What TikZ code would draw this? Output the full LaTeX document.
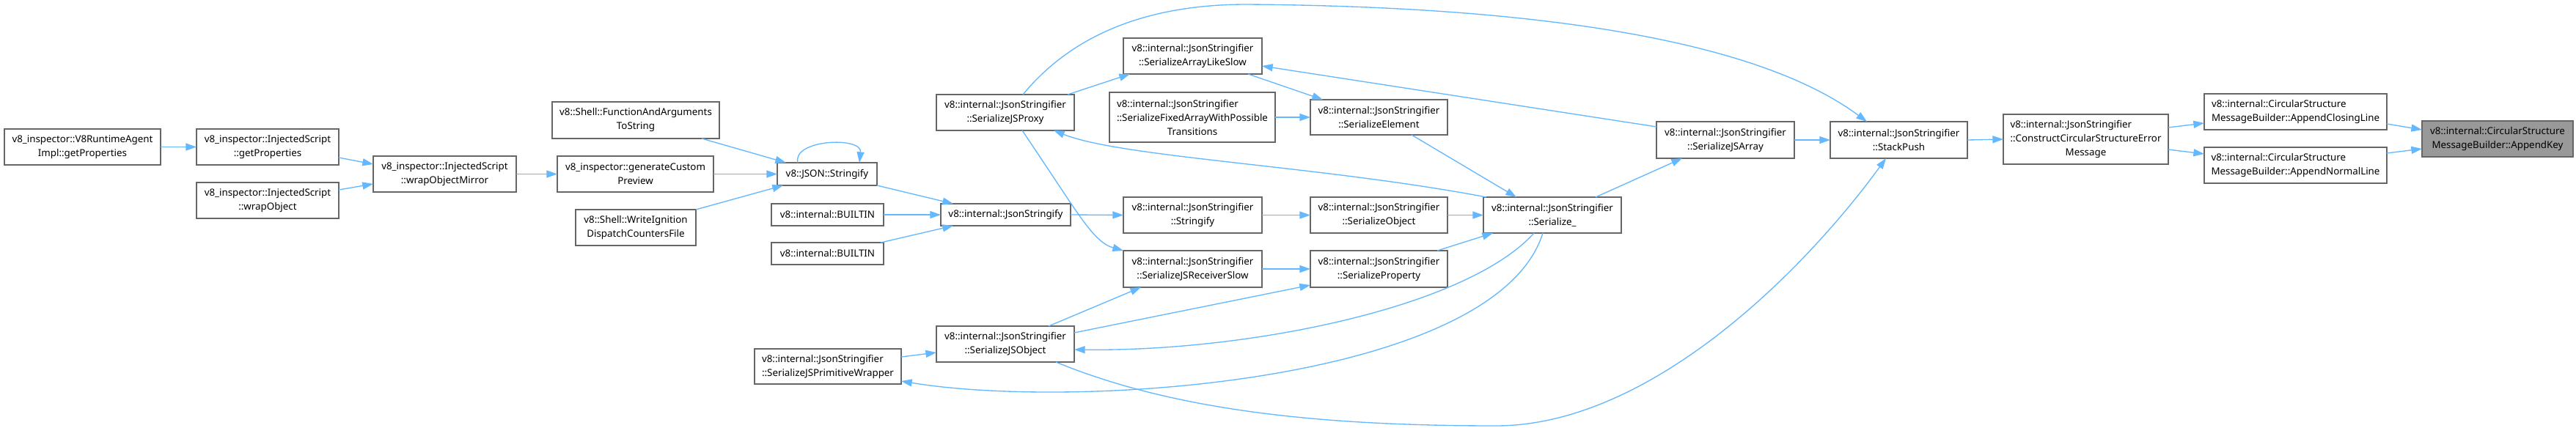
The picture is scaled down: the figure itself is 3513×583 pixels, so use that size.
\documentclass[tikz,border=0pt]{standalone}
\usepackage{fontspec}
\setmainfont{Noto Sans}
\usetikzlibrary{arrows.meta,calc}
\definecolor{edgec}{HTML}{63B8FF}
\definecolor{bordc}{HTML}{666666}
\definecolor{selc}{HTML}{999999}
\newlength\twlA \newlength\twlB
\newcommand{\twol}[2]{\settowidth\twlA{#1}\settowidth\twlB{#2}\ifdim\twlA<\twlB\makebox[\twlB][l]{#1}\else#1\fi\\#2}
\newcommand{\gnode}[7][]{\node[gbox,#1,minimum width={(#5-#3)*0.75pt},minimum height={(#6-#4)*0.75pt}] (#2) at ({(#3+#5)/2},{(#4+#6)/2}) {#7};}
\tikzset{
  gbox/.style={draw=bordc, fill=white, line width=0.9pt, inner sep=0pt, outer sep=0pt, align=center, font=\fontsize{10}{14.25}\selectfont},
  sel/.style={fill=selc},
  conn/.style={draw=edgec, line width=1pt, -{Triangle[length=11pt,width=7.5pt]}}
}
\begin{document}
\begin{tikzpicture}[x=0.75pt,y=-0.75pt]
\fill[white] (0,0) rectangle (3513,583);
\useasboundingbox (0,0) rectangle (3513,583);
\def\JS{v8::internal::JsonStringifier}
\gnode{nA}{6}{176}{219}{225}{\twol{v8\_inspector::V8RuntimeAgent}{Impl::getProperties}}
\gnode{nB}{268}{176}{462}{225}{\twol{v8\_inspector::InjectedScript}{::getProperties}}
\gnode{nC}{268}{249}{462}{298}{\twol{v8\_inspector::InjectedScript}{::wrapObject}}
\gnode{nD}{509}{213}{704}{262}{\twol{v8\_inspector::InjectedScript}{::wrapObjectMirror}}
\gnode{nE}{753}{139}{981}{189}{\twol{v8::Shell::FunctionAndArguments}{ToString}}
\gnode{nF}{760}{213}{973}{262}{\twol{v8\_inspector::generateCustom}{Preview}}
\gnode{nG}{785}{286}{949}{335}{\twol{v8::Shell::WriteIgnition}{DispatchCountersFile}}
\gnode{nH}{1060}{222}{1196}{253}{v8::JSON::Stringify}
\gnode{nIa}{1052}{278}{1205}{308}{v8::internal::BUILTIN}
\gnode{nIb}{1052}{331}{1205}{361}{v8::internal::BUILTIN}
\gnode{nJ}{1283}{278}{1460}{308}{v8::internal::JsonStringify}
\gnode{nK}{1277}{129}{1465}{178}{\twol{\JS}{::SerializeJSProxy}}
\gnode{nL}{1532}{52}{1721}{101}{\twol{\JS}{::SerializeArrayLikeSlow}}
\gnode{nM}{1513}{126}{1739}{194}{\twol{\JS}{::SerializeFixedArrayWithPossible}\\Transitions}
\gnode{nN}{1787}{136}{1974}{184}{\twol{\JS}{::SerializeElement}}
\gnode{nO}{1532}{269}{1721}{318}{\twol{\JS}{::Stringify}}
\gnode{nP}{1787}{269}{1974}{318}{\twol{\JS}{::SerializeObject}}
\gnode{nQ}{1532}{342}{1721}{392}{\twol{\JS}{::SerializeJSReceiverSlow}}
\gnode{nR}{1787}{342}{1974}{392}{\twol{\JS}{::SerializeProperty}}
\gnode{nS}{2023}{269}{2211}{318}{\twol{\JS}{::Serialize\_}}
\gnode{nT}{1277}{445}{1465}{494}{\twol{\JS}{::SerializeJSObject}}
\gnode{nU}{1029}{476}{1229}{524}{\twol{\JS}{::SerializeJSPrimitiveWrapper}}
\gnode{nV}{2259}{166}{2447}{216}{\twol{\JS}{::SerializeJSArray}}
\gnode{nW}{2496}{166}{2683}{216}{\twol{\JS}{::StackPush}}
\gnode{nX}{2732}{156}{2957}{224}{\twol{\JS}{::ConstructCircularStructureError}\\Message}
\gnode{nY}{3006}{128}{3255}{177}{\twol{v8::internal::CircularStructure}{MessageBuilder::AppendClosingLine}}
\gnode{nZ}{3006}{201}{3255}{250}{\twol{v8::internal::CircularStructure}{MessageBuilder::AppendNormalLine}}
\gnode[sel]{nAK}{3303}{165}{3509}{214}{\twol{v8::internal::CircularStructure}{MessageBuilder::AppendKey}}
% edges
\draw[conn] (nA.east) -- (nB.west);
\draw[conn] ($(nB.east)+(0,14.5)$) -- ($(nD.west)+(0,-13.5)$);
\draw[conn] ($(nC.east)+(0,-14.5)$) -- ($(nD.west)+(0,13.5)$);
\draw[conn] (nD.east) -- (nF.west);
\draw[conn] ($(nE.south east)+(-24,0)$) -- ($(nH.north west)+(12,0)$);
\draw[conn] (nF.east) -- (nH.west);
\draw[conn] (nG.north east) -- ($(nH.south west)+(8,0)$);
\draw[conn] ($(nH.north)+(-40,0)$) .. controls +(-8,-32) and +(4,-36) .. ($(nH.north)+(44,0)$);
\draw[conn] (nH.south east) -- ($(nJ.north west)+(17,0)$);
\draw[conn] (nIa.east) -- (nJ.west);
\draw[conn] ($(nIb.north east)+(-4,0)$) -- ($(nJ.south west)+(17,0)$);
\draw[conn] (nJ.east) -- (nO.west);
\draw[conn] (nO.east) -- (nP.west);
\draw[conn] (nP.east) -- (nS.west);
\draw[conn] ($(nR.north east)+(-14,0)$) -- ($(nS.south west)+(13,0)$);
\draw[conn] (nQ.east) -- (nR.west);
\draw[conn] ($(nK.north east)+(-9,0)$) -- ($(nL.south west)+(9,0)$);
\draw[conn] ($(nK.south)+(23,0)$) .. controls +(76,112) and +(-42,-12) .. (nQ.north west);
\draw[conn] ($(nK.north)+(24,0)$) .. controls +(65,-79) and (1560,6) .. (1700,6) .. controls (2250,10) and (2450,95) .. ($(nW.north)+(-43.5,0)$);
\draw[conn] ($(nL.south east)+(-19,0)$) -- ($(nN.north west)+(17,0)$);
\draw[conn] (nM.east) -- (nN.west);
\draw[conn] ($(nN.south)+(44.5,0)$) -- ($(nS.north)+(-49,0)$);
\draw[conn] ($(nS.north)+(59,0)$) -- ($(nV.south west)+(35,0)$);
\draw[conn] ($(nV.west)+(0,-18)$) -- ($(nL.east)+(0,13.5)$);
\draw[conn] ($(nS.north west)+(4,0)$) .. controls +(-227,-43) and +(93,37) .. ($(nK.south east)+(-28,0)$);
\draw[conn] ($(nT.north)+(59,0)$) -- ($(nQ.south west)+(24,0)$);
\draw[conn] ($(nT.east)+(0,-15.5)$) -- ($(nR.south west)+(0,-3)$);
\draw[conn] ($(nS.south)+(-25,0)$) .. controls +(-92,102) and +(235,3) .. ($(nT.east)+(0,7.5)$);
\draw[conn] ($(nS.south)+(-13,0)$) .. controls +(-63,202) and +(244,40) .. ($(nU.east)+(0,20)$);
\draw[conn] ($(nU.east)+(0,-13)$) -- ($(nT.west)+(0,11.5)$);
\draw[conn] ($(nT.south)+(69,0)$) .. controls +(160,66) and (1800,581) .. (2040,581) .. controls (2250,581) and (2460,370) .. ($(nW.south)+(-17.5,0)$);
\draw[conn] (nV.east) -- (nW.west);
\draw[conn] (nW.east) -- (nX.west);
\draw[conn] ($(nX.east)+(0,-16)$) -- ($(nY.west)+(0,15.5)$);
\draw[conn] ($(nX.east)+(0,14)$) -- ($(nZ.west)+(0,-15.5)$);
\draw[conn] ($(nY.east)+(0,16.5)$) -- ($(nAK.west)+(0,-12.5)$);
\draw[conn] ($(nZ.east)+(0,-16.5)$) -- ($(nAK.west)+(0,13.5)$);
\end{tikzpicture}
\end{document}
